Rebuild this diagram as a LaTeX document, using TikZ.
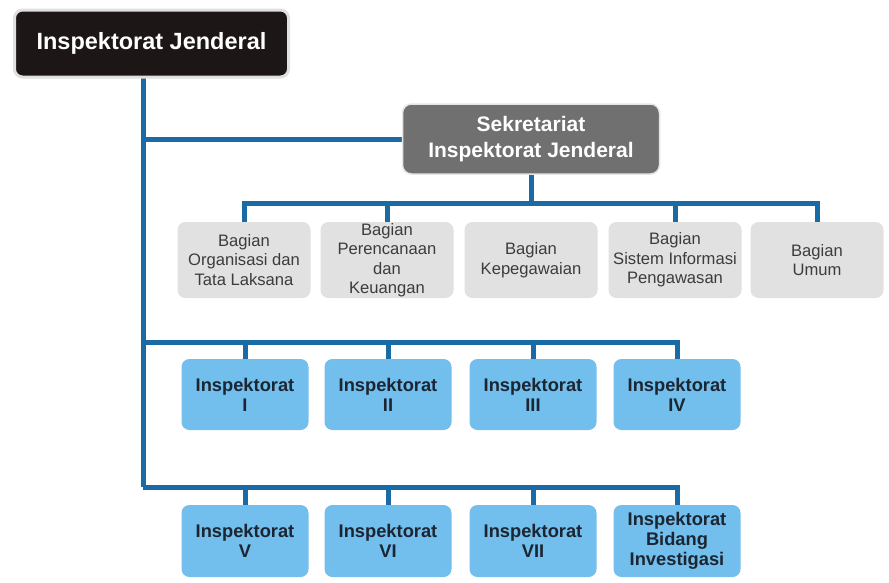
\documentclass[tikz,border=0pt]{standalone}
\usepackage{fontspec}
\setmainfont{Liberation Sans}
\usetikzlibrary{backgrounds}
\definecolor{lineblue}{HTML}{1A6AA5}
\definecolor{topfill}{HTML}{1C1616}
\definecolor{sekfill}{HTML}{707070}
\definecolor{bagfill}{HTML}{E1E1E1}
\definecolor{bagtext}{HTML}{3C3C3C}
\definecolor{inspfill}{HTML}{72BEEC}
\definecolor{insptext}{HTML}{1C2532}
\tikzset{
  topbox/.style={fill=topfill, draw=black!12, line width=3pt, rounded corners=8pt,
    minimum width=274pt, minimum height=67pt, text=white,
    font=\fontsize{23.5}{27}\selectfont\bfseries},
  sekbox/.style={fill=sekfill, draw=black!10, line width=1.5pt, rounded corners=9pt,
    minimum width=257pt, minimum height=70pt, text=white, align=center,
    font=\fontsize{21}{26}\selectfont\bfseries},
  bagbox/.style={fill=bagfill, rounded corners=8pt, minimum width=133pt,
    minimum height=76pt, text=bagtext, align=center, inner sep=1pt,
    font=\fontsize{16.6}{19.5}\selectfont},
  inspbox/.style={fill=inspfill, rounded corners=8pt, minimum width=127pt,
    minimum height=71pt, text=insptext, align=center, inner sep=1pt,
    font=\fontsize{18.3}{20}\selectfont\bfseries},
  conn/.style={draw=lineblue, line width=5pt, line join=miter},
}
\begin{document}
\begin{tikzpicture}[x=1pt,y=-1pt]
\useasboundingbox (0,0) rectangle (889,582);

\node[topbox] (top) at (151.5,43.5) {Inspektorat Jenderal};
\node[sekbox] (sek) at (531,139) {Sekretariat\\Inspektorat Jenderal};

\node[bagbox] (b1) at (244,260) {Bagian\\Organisasi dan\\Tata Laksana};
\node[bagbox] (b2) at (387,260) {Bagian\\Perencanaan\\dan\\Keuangan};
\node[bagbox] (b3) at (531,260) {Bagian\\Kepegawaian};
\node[bagbox] (b4) at (675,260) {Bagian\\Sistem Informasi\\Pengawasan};
\node[bagbox] (b5) at (817,260) {Bagian\\Umum};

\node[inspbox] (i1) at (245,394.5) {Inspektorat\\I};
\node[inspbox] (i2) at (388,394.5) {Inspektorat\\II};
\node[inspbox] (i3) at (533,394.5) {Inspektorat\\III};
\node[inspbox] (i4) at (677,394.5) {Inspektorat\\IV};

\node[inspbox, minimum height=72pt] (i5) at (245,541) {Inspektorat\\V};
\node[inspbox, minimum height=72pt] (i6) at (388,541) {Inspektorat\\VI};
\node[inspbox, minimum height=72pt] (i7) at (533,541) {Inspektorat\\VII};
\node[inspbox, minimum height=72pt] (i8) at (677,541) {Inspektorat\\Bidang\\Investigasi};

\coordinate (t0) at (143,77);
\coordinate (r0) at (143,139);
\coordinate (bl) at (531,203);
\coordinate (r1) at (143,342);
\coordinate (r2) at (143,487);

\begin{scope}[on background layer]
\fill[white] (0,0) rectangle (889,582);
\draw[conn] (t0) -- (r2);
\draw[conn] (r0) -- (sek.west);
\draw[conn] (sek.south) -- (bl);
\draw[conn] (b1.north) |- (bl);
\draw[conn] (b5.north) |- (bl);
\draw[conn] (b2.north) -- (b2.north |- bl);
\draw[conn] (b4.north) -- (b4.north |- bl);
\draw[conn] (i4.north) |- (r1);
\draw[conn] (i1.north) -- (i1.north |- r1);
\draw[conn] (i2.north) -- (i2.north |- r1);
\draw[conn] (i3.north) -- (i3.north |- r1);
\draw[conn] (i8.north) |- (r2);
\draw[conn] (i5.north) -- (i5.north |- r2);
\draw[conn] (i6.north) -- (i6.north |- r2);
\draw[conn] (i7.north) -- (i7.north |- r2);
\end{scope}
\end{tikzpicture}
\end{document}
